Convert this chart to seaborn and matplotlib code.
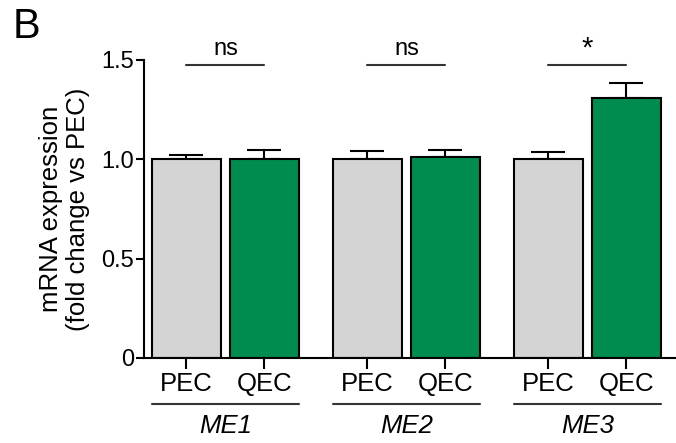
import numpy as np
import pandas as pd
import matplotlib
matplotlib.use("Agg")
import matplotlib.pyplot as plt
import seaborn as sns

genes = ["ME1", "ME2", "ME3"]
cells = ["PEC", "QEC"]
means_pec = [1.00, 1.00, 1.00]
means_qec = [1.00, 1.013, 1.307]
sem_pec = [0.024, 0.042, 0.035]
sem_qec = [0.045, 0.036, 0.076]
signif = ["ns", "ns", "*"]

df = pd.DataFrame({
    "gene": genes * 2,
    "cell": ["PEC"] * 3 + ["QEC"] * 3,
    "value": means_pec + means_qec,
    "sem": sem_pec + sem_qec,
})

sns.set_style("ticks", {"text.color": "black", "axes.labelcolor": "black",
                        "xtick.color": "black", "ytick.color": "black",
                        "axes.edgecolor": "black"})
plt.rcParams["font.family"] = ["Liberation Sans", "DejaVu Sans"]

fig = plt.figure(figsize=(6.76, 4.43), dpi=100)
ax = fig.add_axes([0.213, 0.192, 0.787, 0.6726])

pal = {"PEC": "#D4D4D4", "QEC": "#008C4F"}
sns.barplot(data=df, x="gene", y="value", hue="cell", order=genes, hue_order=cells,
            palette=pal, saturation=1, width=0.862, gap=0.115, errorbar=None,
            edgecolor="black", linewidth=1.5, legend=False, ax=ax, zorder=2)

# error bars (upper only) at each bar centre
centers = {}
for cont, cell in zip(ax.containers, cells):
    sub = df[df.cell == cell].set_index("gene").loc[genes]
    xs = [p.get_x() + p.get_width() / 2 for p in cont.patches]
    centers[cell] = xs
    ax.errorbar(xs, sub["value"], yerr=[np.zeros(3), sub["sem"]], fmt="none",
                ecolor="black", elinewidth=1.5, capsize=12.5, capthick=1.5, zorder=1)

ax.set_ylim(0, 1.5)
ax.set_xlim(-0.45, 2.489)
ax.set_yticks([0, 0.5, 1.0, 1.5])
ax.set_yticklabels(["0", "0.5", "1.0", "1.5"], fontsize=17)
ax.tick_params(axis="y", length=6, width=1.5, pad=1)
ax.tick_params(axis="x", length=8, width=1.5, pad=2)

xt = [x for i in range(3) for x in (centers["PEC"][i], centers["QEC"][i])]
ax.set_xticks(xt)
ax.set_xticklabels(cells * 3, fontsize=18.5)
ax.set_xlabel("")
ax.set_ylabel("mRNA expression\n(fold change vs PEC)", fontsize=18.5, linespacing=1.2, labelpad=8)
sns.despine(ax=ax)
for s in ["left", "bottom"]:
    ax.spines[s].set_linewidth(1.5)

# significance lines
for i, lab in enumerate(signif):
    x0, x1 = centers["PEC"][i], centers["QEC"][i]
    ax.plot([x0, x1], [1.473, 1.473], color="#333333", lw=1.5, clip_on=False)
    if lab == "ns":
        ax.text((x0 + x1) / 2, 1.50, lab, ha="center", va="bottom", fontsize=17, clip_on=False)
    else:
        ax.text((x0 + x1) / 2, 1.485, lab, ha="center", va="bottom", fontsize=21, clip_on=False)

# group underlines and gene labels
bw = ax.containers[0].patches[0].get_width()
trans = ax.get_xaxis_transform()
for i, g in enumerate(genes):
    x0 = centers["PEC"][i] - bw / 2
    x1 = centers["QEC"][i] + bw / 2
    ax.plot([x0, x1], [-0.153, -0.153], transform=trans, color="#333333", lw=1.5, clip_on=False)
    ax.text((x0 + x1) / 2, -0.23, g, transform=trans, ha="center", va="center",
            fontsize=18.5, style="italic")

fig.text(0.018, 0.985, "B", fontsize=30, va="top", ha="left")

fig.savefig("out.png", dpi=100)
